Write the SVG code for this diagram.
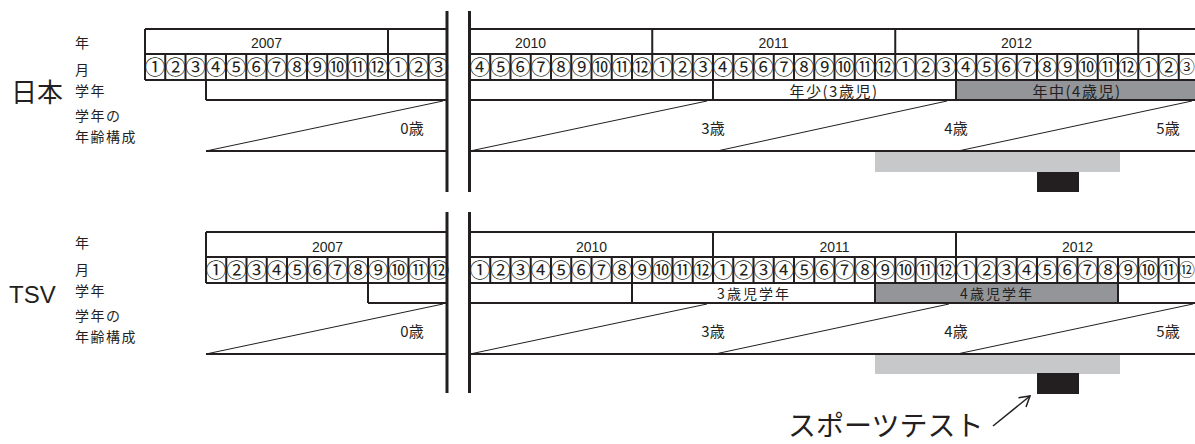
<svg xmlns="http://www.w3.org/2000/svg" width="1195" height="444" viewBox="0 0 1195 444">
<style>
.t{font-family:"Noto Sans CJK JP","Noto Sans",sans-serif;fill:#231f20}
.lab{font-size:14px;letter-spacing:1.5px}
.yr{font-family:"Liberation Sans",Arial,sans-serif;font-size:14px;fill:#231f20;text-anchor:middle}
.m{font-size:20.5px;text-anchor:middle}
.edge{font-size:16.5px}
.age{font-size:15px;text-anchor:middle}
.gr{font-size:15px;text-anchor:middle;letter-spacing:1.5px}
.ln{stroke:#231f20;stroke-width:2;fill:none}
.thin{stroke:#231f20;stroke-width:1;fill:none}
.bar{stroke:#231f20;stroke-width:3;fill:none}
</style>
<defs>
<marker id="ah" markerWidth="14" markerHeight="14" refX="12" refY="7" orient="auto" markerUnits="userSpaceOnUse">
<path d="M2,1 L12,7 L2,13" fill="none" stroke="#231f20" stroke-width="1.5"/>
</marker>
</defs>
<rect width="1195" height="444" fill="#fff"/>

<g id="japan">
<text class="t" x="11" y="102" font-size="26">日本</text>
<g id="japan-labels" class="t lab">
<text x="75" y="48">年</text>
<text x="75" y="75">月</text>
<text x="75" y="96">学年</text>
<text x="75" y="121">学年の</text>
<text x="75" y="142">年齢構成</text>
</g>
<rect x="956" y="80" width="245" height="20" fill="#939598"/>
<rect x="875" y="152" width="245" height="20" fill="#c7c8ca"/>
<rect x="1037" y="172" width="42" height="20" fill="#231f20"/>
<path class="ln" d="M145,29H447M145,54H447M145,80H447M470,29H1195M470,54H1195M470,80H1195M206,100H447M470,100H1195M206,151H447M470,151H1195"/>
<path class="ln" d="M145,29V80M388,29V54M652.25,29V54M895.25,29V54M1138.25,29V54M206,80V100M713,80V100M956,80V100"/>
<path class="ln" d="M165.25,54V80M185.5,54V80M205.75,54V80M226,54V80M246.25,54V80M266.5,54V80M286.75,54V80M307,54V80M327.25,54V80M347.5,54V80M367.75,54V80M388,54V80M408.25,54V80M428.5,54V80"/>
<path class="ln" d="M490.25,54V80M510.5,54V80M530.75,54V80M551,54V80M571.25,54V80M591.5,54V80M611.75,54V80M632,54V80M652.25,54V80M672.5,54V80M692.75,54V80M713,54V80M733.25,54V80M753.5,54V80M773.75,54V80M794,54V80M814.25,54V80M834.5,54V80M854.75,54V80M875,54V80M895.25,54V80M915.5,54V80M935.75,54V80M956,54V80M976.25,54V80M996.5,54V80M1016.75,54V80M1037,54V80M1057.25,54V80M1077.5,54V80M1097.75,54V80M1118,54V80M1138.25,54V80M1158.5,54V80M1178.75,54V80"/>
<path class="thin" d="M206,151L443,101M470,151L707,101M717,151L947,101M958,151L1192,101"/>
<path class="bar" d="M447,11V192M469.5,11V192"/>
<g class="yr">
<text x="266.5" y="48">2007</text>
<text x="530.6" y="48">2010</text>
<text x="773.6" y="48">2011</text>
<text x="1016.6" y="48">2012</text>
</g>
<g class="t m">
<text x="155.1" y="74.8">①</text><text x="175.4" y="74.8">②</text><text x="195.6" y="74.8">③</text><text x="215.9" y="74.8">④</text><text x="236.1" y="74.8">⑤</text><text x="256.4" y="74.8">⑥</text><text x="276.6" y="74.8">⑦</text><text x="296.9" y="74.8">⑧</text><text x="317.1" y="74.8">⑨</text><text x="337.4" y="74.8">⑩</text><text x="357.6" y="74.8">⑪</text><text x="377.9" y="74.8">⑫</text><text x="398.1" y="74.8">①</text><text x="418.4" y="74.8">②</text><text x="438.6" y="74.8">③</text>
<text x="480.1" y="74.8">④</text><text x="500.4" y="74.8">⑤</text><text x="520.6" y="74.8">⑥</text><text x="540.9" y="74.8">⑦</text><text x="561.1" y="74.8">⑧</text><text x="581.4" y="74.8">⑨</text><text x="601.6" y="74.8">⑩</text><text x="621.9" y="74.8">⑪</text><text x="642.1" y="74.8">⑫</text>
<text x="662.4" y="74.8">①</text><text x="682.6" y="74.8">②</text><text x="702.9" y="74.8">③</text><text x="723.1" y="74.8">④</text><text x="743.4" y="74.8">⑤</text><text x="763.6" y="74.8">⑥</text><text x="783.9" y="74.8">⑦</text><text x="804.1" y="74.8">⑧</text><text x="824.4" y="74.8">⑨</text><text x="844.6" y="74.8">⑩</text><text x="864.9" y="74.8">⑪</text><text x="885.1" y="74.8">⑫</text>
<text x="905.4" y="74.8">①</text><text x="925.6" y="74.8">②</text><text x="945.9" y="74.8">③</text><text x="966.1" y="74.8">④</text><text x="986.4" y="74.8">⑤</text><text x="1006.6" y="74.8">⑥</text><text x="1026.9" y="74.8">⑦</text><text x="1047.1" y="74.8">⑧</text><text x="1067.4" y="74.8">⑨</text><text x="1087.6" y="74.8">⑩</text><text x="1107.9" y="74.8">⑪</text><text x="1128.1" y="74.8">⑫</text>
<text x="1148.4" y="74.8">①</text><text x="1168.6" y="74.8">②</text><text class="edge" x="1186.8" y="73.3">③</text>
</g>
<g class="t gr">
<text x="834" y="96.5">年少(3歳児)</text>
<text x="1077" y="96.5">年中(4歳児)</text>
</g>
<g class="t age">
<text x="412" y="134">0歳</text>
<text x="713" y="134">3歳</text>
<text x="956" y="134">4歳</text>
<text x="1168" y="134">5歳</text>
</g>
</g>

<g id="tsv">
<text x="9" y="303" font-family="Liberation Sans,Arial,sans-serif" font-size="24" fill="#231f20">TSV</text>
<g id="tsv-labels" class="t lab">
<text x="75" y="248">年</text>
<text x="75" y="275">月</text>
<text x="75" y="296">学年</text>
<text x="75" y="321">学年の</text>
<text x="75" y="342">年齢構成</text>
</g>
<rect x="875" y="283" width="243" height="20" fill="#939598"/>
<rect x="875" y="355" width="245" height="19" fill="#c7c8ca"/>
<rect x="1037" y="373" width="42" height="21" fill="#231f20"/>
<path class="ln" d="M206,232H447M206,257H447M206,283H447M470,232H1195M470,257H1195M470,283H1195M368,303H447M470,303H1195M206,354H447M470,354H1195"/>
<path class="ln" d="M206,232V283M713,232V257M956,232V257M368,283V303M632,283V303M875,283V303M1118,283V303"/>
<path class="ln" d="M226.25,257V283M246.5,257V283M266.75,257V283M287,257V283M307.25,257V283M327.5,257V283M347.75,257V283M368,257V283M388.25,257V283M408.5,257V283M428.75,257V283"/>
<path class="ln" d="M490.25,257V283M510.5,257V283M530.75,257V283M551,257V283M571.25,257V283M591.5,257V283M611.75,257V283M632,257V283M652.25,257V283M672.5,257V283M692.75,257V283M713,257V283M733.25,257V283M753.5,257V283M773.75,257V283M794,257V283M814.25,257V283M834.5,257V283M854.75,257V283M875,257V283M895.25,257V283M915.5,257V283M935.75,257V283M956,257V283M976.25,257V283M996.5,257V283M1016.75,257V283M1037,257V283M1057.25,257V283M1077.5,257V283M1097.75,257V283M1118,257V283M1138.25,257V283M1158.5,257V283M1178.75,257V283"/>
<path class="thin" d="M206,354L443,304M470,354L707,304M715,354L949,304M957,354L1193,304"/>
<path class="bar" d="M447,212V393M469.5,212V393"/>
<g class="yr">
<text x="327.5" y="251.5">2007</text>
<text x="591.5" y="251.5">2010</text>
<text x="834.5" y="251.5">2011</text>
<text x="1077.5" y="251.5">2012</text>
</g>
<g class="t m">
<text x="216.1" y="277.8">①</text><text x="236.4" y="277.8">②</text><text x="256.6" y="277.8">③</text><text x="276.9" y="277.8">④</text><text x="297.1" y="277.8">⑤</text><text x="317.4" y="277.8">⑥</text><text x="337.6" y="277.8">⑦</text><text x="357.9" y="277.8">⑧</text><text x="378.1" y="277.8">⑨</text><text x="398.4" y="277.8">⑩</text><text x="418.6" y="277.8">⑪</text><text x="438.9" y="277.8">⑫</text>
<text x="480.1" y="277.8">①</text><text x="500.4" y="277.8">②</text><text x="520.6" y="277.8">③</text><text x="540.9" y="277.8">④</text><text x="561.1" y="277.8">⑤</text><text x="581.4" y="277.8">⑥</text><text x="601.6" y="277.8">⑦</text><text x="621.9" y="277.8">⑧</text><text x="642.1" y="277.8">⑨</text><text x="662.4" y="277.8">⑩</text><text x="682.6" y="277.8">⑪</text><text x="702.9" y="277.8">⑫</text>
<text x="723.1" y="277.8">①</text><text x="743.4" y="277.8">②</text><text x="763.6" y="277.8">③</text><text x="783.9" y="277.8">④</text><text x="804.1" y="277.8">⑤</text><text x="824.4" y="277.8">⑥</text><text x="844.6" y="277.8">⑦</text><text x="864.9" y="277.8">⑧</text><text x="885.1" y="277.8">⑨</text><text x="905.4" y="277.8">⑩</text><text x="925.6" y="277.8">⑪</text><text x="945.9" y="277.8">⑫</text>
<text x="966.1" y="277.8">①</text><text x="986.4" y="277.8">②</text><text x="1006.6" y="277.8">③</text><text x="1026.9" y="277.8">④</text><text x="1047.1" y="277.8">⑤</text><text x="1067.4" y="277.8">⑥</text><text x="1087.6" y="277.8">⑦</text><text x="1107.9" y="277.8">⑧</text><text x="1128.1" y="277.8">⑨</text><text x="1148.4" y="277.8">⑩</text><text x="1168.6" y="277.8">⑪</text><text class="edge" x="1186.8" y="276.3">⑫</text>
</g>
<g class="t" font-size="14" text-anchor="middle" letter-spacing="2">
<text x="754" y="298.5">3歳児学年</text>
<text x="997" y="298.5">4歳児学年</text>
</g>
<g class="t age">
<text x="412" y="337">0歳</text>
<text x="713" y="337">3歳</text>
<text x="956" y="337">4歳</text>
<text x="1168" y="337">5歳</text>
</g>
</g>

<g id="callout">
<text class="t" x="788" y="436" font-size="28">スポーツテスト</text>
</g>
<g id="connectors">
<line x1="993" y1="426" x2="1030" y2="396" stroke="#231f20" stroke-width="1.5" marker-end="url(#ah)"/>
</g>
</svg>
